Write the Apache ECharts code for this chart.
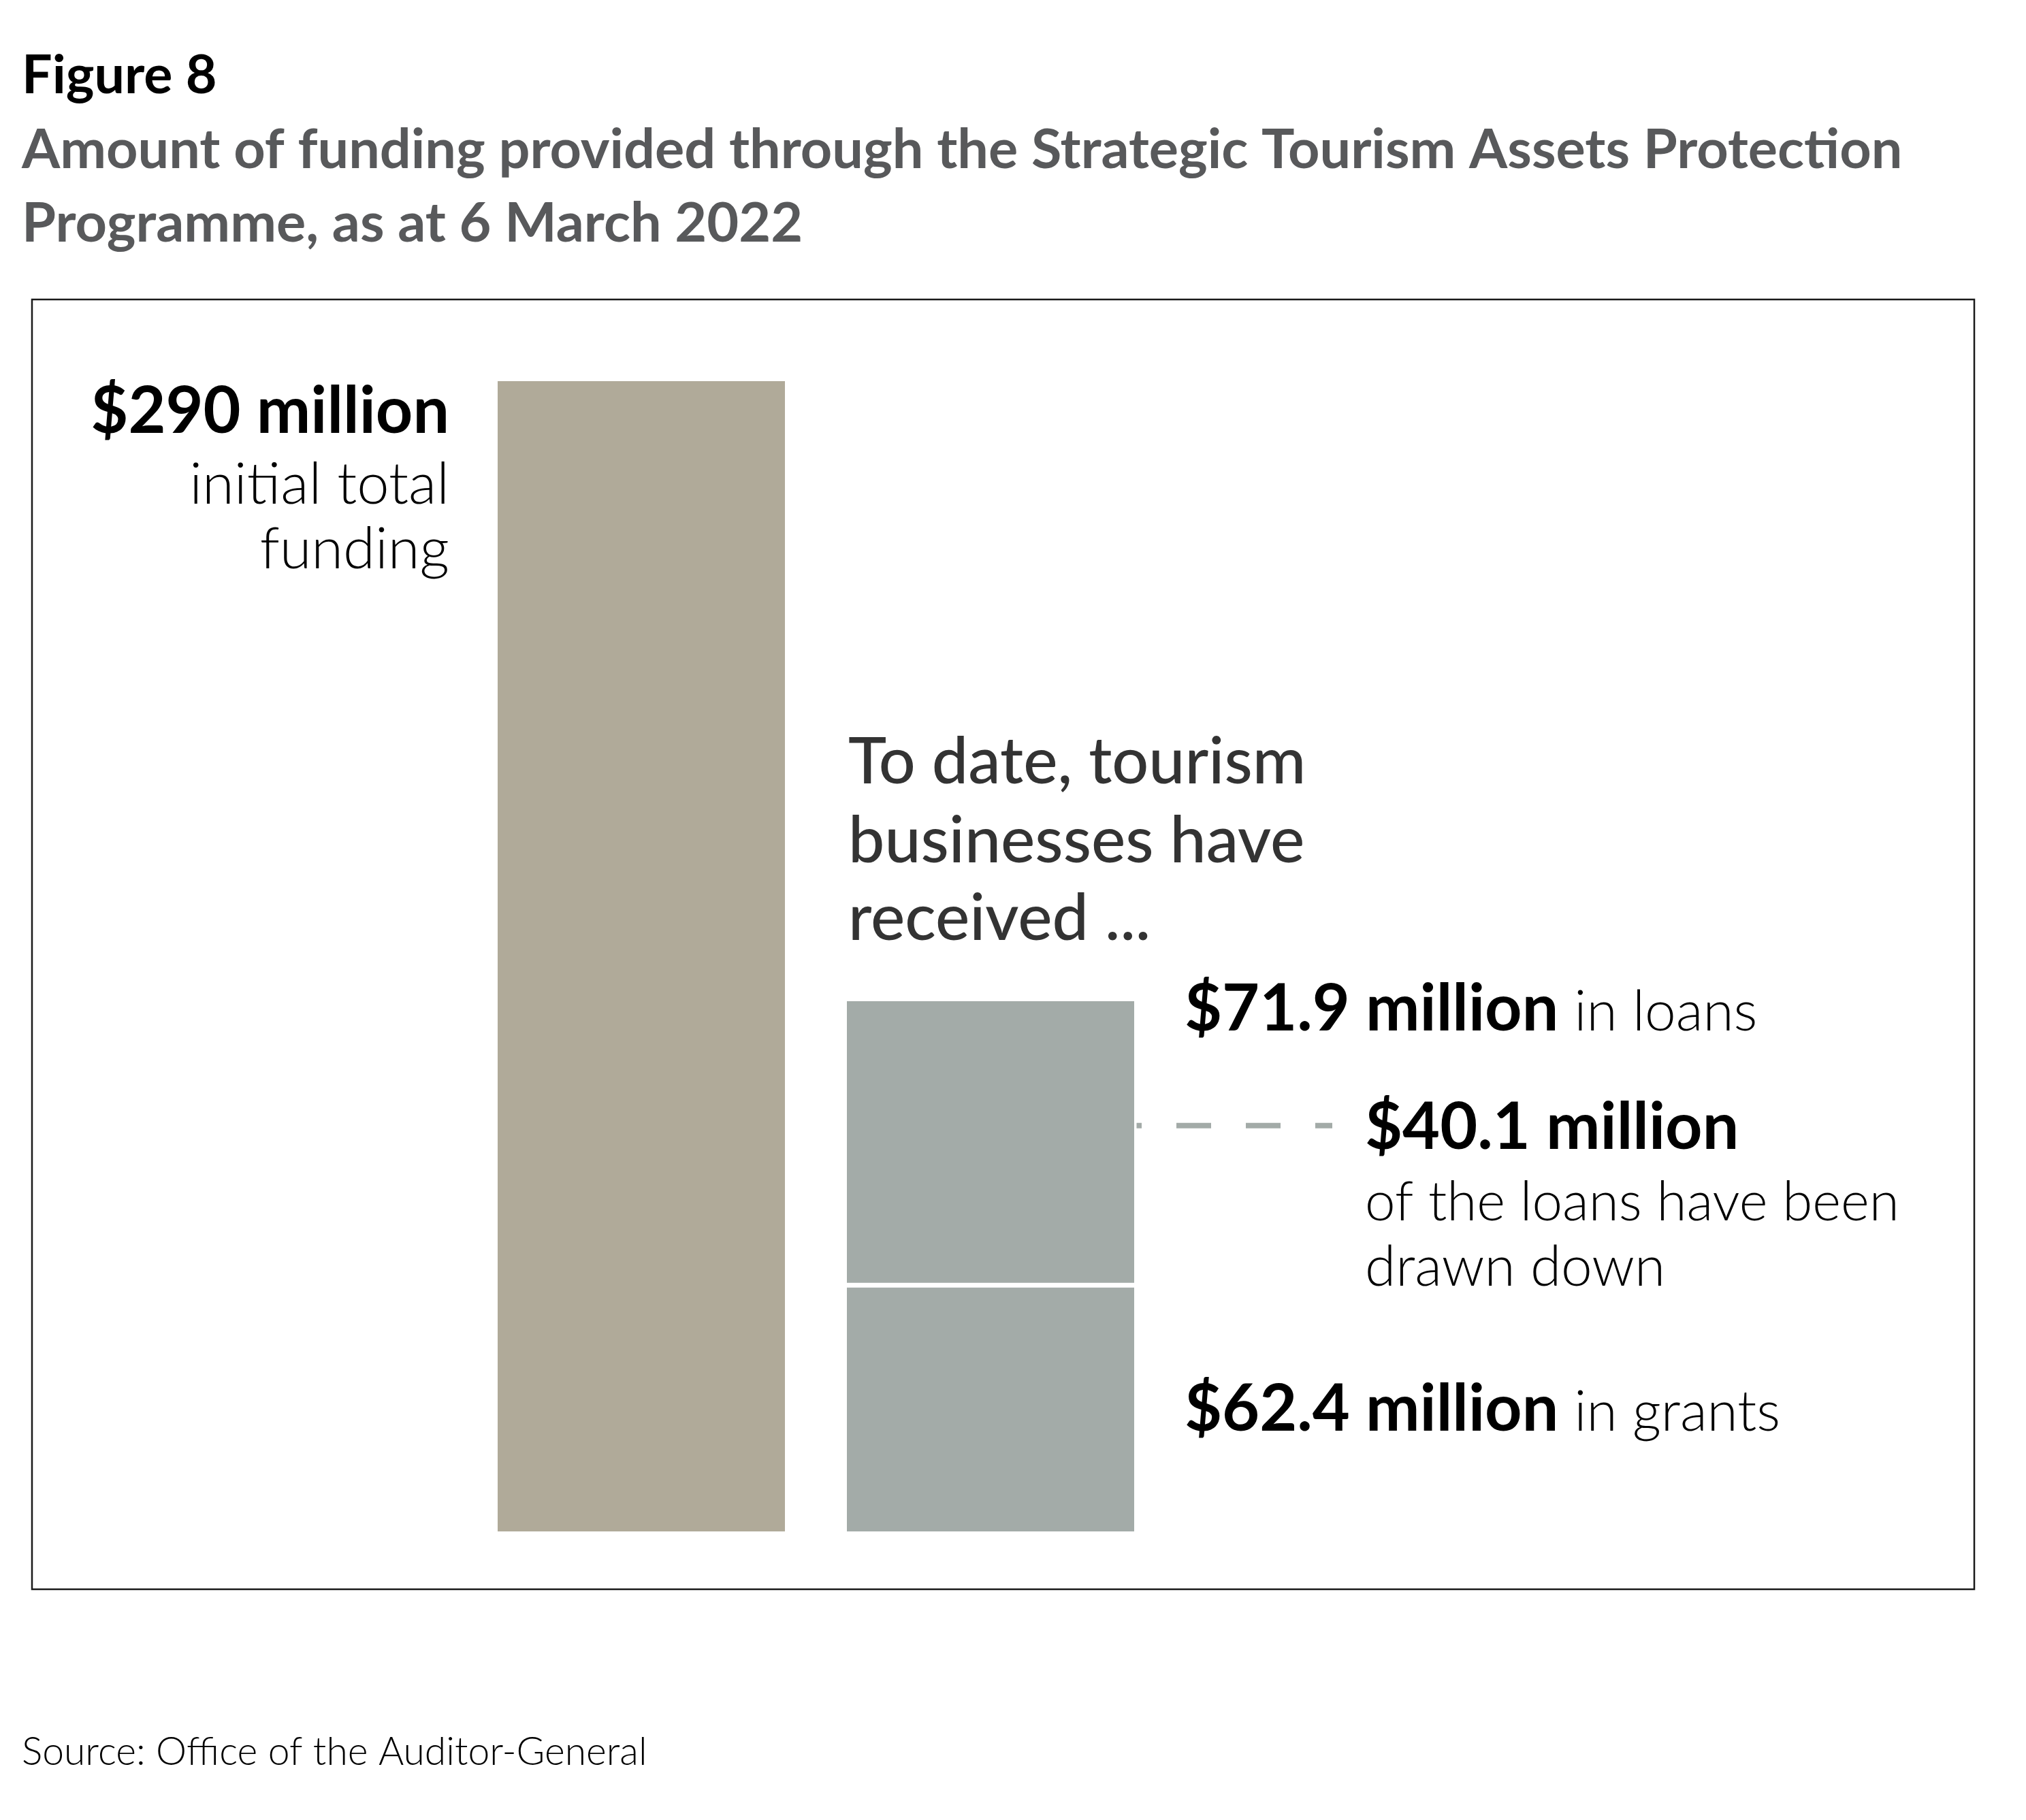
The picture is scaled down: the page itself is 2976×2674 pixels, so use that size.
<!DOCTYPE html>
<html><head><meta charset="utf-8">
<script src="https://cdn.jsdelivr.net/npm/echarts@6/dist/echarts.min.js"></script>
<style>html,body{margin:0;padding:0;background:#fff}#c{width:2976px;height:2674px}</style>
</head><body><div id="c"></div>
<script>
// ---- data ----
const categories = ['Initial total funding', 'Received to date'];
const totalFunding = [290, '-'];
const grants = ['-', 62.4];
const loans = ['-', 71.9];
const loansDrawnDown = 40.1;

const figureLabel = 'Figure 8';
const titleLines = ['Amount of funding provided through the Strategic Tourism Assets Protection', 'Programme, as at 6 March 2022'];
const sourceText = 'Source: Office of the Auditor-General';

// ---- chart ----
const FF = 'Lato, "Open Sans", sans-serif';
const chart = echarts.init(document.getElementById('c'), null, {renderer: 'canvas'});
const BW = 429, BORDER = 3.5;
const barItem = (color) => ({color: color, borderColor: '#ffffff', borderWidth: BORDER});
chart.setOption({
  backgroundColor: '#ffffff',
  animation: false,
  grid: {left: 685.5, right: 1264.5, top: 556.5, bottom: 420.5, containLabel: false},
  xAxis: {type: 'category', data: categories, show: false},
  yAxis: {type: 'value', min: 0, max: 290, show: false, splitLine: {show: false}},
  series: [
    {name: 'Initial total funding', type: 'bar', stack: 'a', barWidth: BW, data: totalFunding, itemStyle: barItem('#b0aa99')},
    {name: 'Grants', type: 'bar', stack: 'a', barWidth: BW, data: grants, itemStyle: barItem('#a3aba8')},
    {name: 'Loans', type: 'bar', stack: 'a', barWidth: BW, data: loans, itemStyle: barItem('#a3aba8')}
  ]
});

// ---- text helpers ----
const mctx = document.createElement('canvas').getContext('2d');
function baseOff(font) {
  mctx.font = font; mctx.textBaseline = 'middle';
  return mctx.measureText('H').actualBoundingBoxDescent;
}
function width(font, s) { mctx.font = font; return mctx.measureText(s).width; }
function T(x, baseline, text, font, fill, align) {
  return {type: 'text', x: x, y: baseline - baseOff(font), silent: true,
    style: {text: text, font: font, fill: fill, align: align || 'left', verticalAlign: 'middle',
            textAlign: align || 'left', textVerticalAlign: 'middle'}};
}
function pair(x, baseline, bold, rest, fb, fr) {
  const w = width(fb, bold + ' ');
  return [T(x, baseline, bold, fb, '#000'), T(x + w, baseline, rest, fr, '#000')];
}

const fBig = 'bold 95px ' + FF;
const fDesc = '300 82px ' + FF;
const fDesc2 = '300 80px ' + FF;
const fInit = '300 85px ' + FF;
const fMid = '500 95px ' + FF;
const fTitle = 'bold 81px ' + FF;

// dashed line position from the chart's own scale
const pDrawn = chart.convertToPixel({gridIndex: 0}, [1, grants[1] + loansDrawnDown]);
const barRight = pDrawn[0] + BW / 2 - BORDER;

const g = [
  {type: 'rect', shape: {x: 47, y: 440, width: 2853, height: 1895}, style: {fill: 'none', stroke: '#1a1a1a', lineWidth: 2.5}, z: -1},
  T(32, 137, figureLabel, 'bold 79px ' + FF, '#000'),
  T(32, 247, titleLines[0], fTitle, '#58595b'),
  T(32, 355, titleLines[1], fTitle, '#58595b'),
  T(660, 636, '$290 million', fBig, '#000', 'right'),
  T(660, 740, 'initial total', fInit, '#000', 'right'),
  T(660, 835, 'funding', fInit, '#000', 'right'),
  T(1246, 1151, 'To date, tourism', fMid, '#333333'),
  T(1246, 1267, 'businesses have', fMid, '#333333'),
  T(1246, 1381, 'received ...', fMid, '#333333'),
  ...pair(1740, 1514, '$71.9 million', 'in loans', fBig, fDesc),
  T(2005, 1688, '$40.1 million', fBig, '#000'),
  T(2005, 1793, 'of the loans have been', fDesc2, '#000'),
  T(2005, 1889, 'drawn down', fDesc, '#000'),
  ...pair(1740, 2102, '$62.4 million', 'in grants', fBig, fDesc),
  T(32, 2593, sourceText, '300 57px ' + FF, '#000'),
  {type: 'line', silent: true, shape: {x1: barRight, y1: pDrawn[1], x2: 1957, y2: pDrawn[1]},
   style: {stroke: '#a3aba8', lineWidth: 8, lineDash: [51, 51], lineDashOffset: 40}}
];
chart.setOption({graphic: {elements: g}});
</script>
</body></html>
